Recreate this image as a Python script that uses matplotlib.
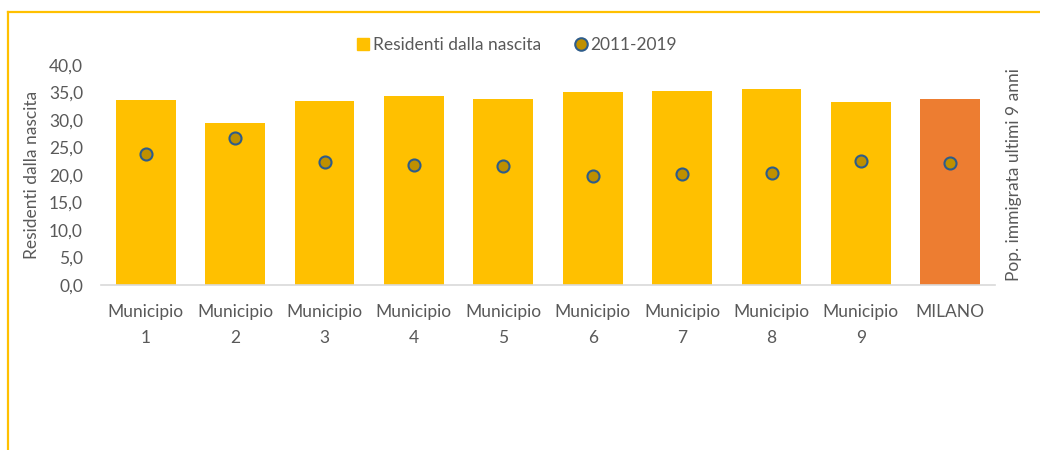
import matplotlib
matplotlib.use("Agg")
from matplotlib import pyplot as plt
from matplotlib.lines import Line2D
import numpy as np

plt.rcParams['font.family'] = ['Lato', 'DejaVu Sans']

categories = ['Municipio\n1', 'Municipio\n2', 'Municipio\n3', 'Municipio\n4', 'Municipio\n5',
              'Municipio\n6', 'Municipio\n7', 'Municipio\n8', 'Municipio\n9', 'MILANO']
residenti = [33.6, 29.5, 33.4, 34.3, 33.9, 35.1, 35.3, 35.7, 33.3, 33.8]
immigrati = [23.8, 26.7, 22.3, 21.9, 21.6, 19.8, 20.1, 20.4, 22.5, 22.1]
yticks = [0, 5, 10, 15, 20, 25, 30, 35, 40]

txt_col = '#595959'
bar_col = '#FFC000'
milano_col = '#ED7D31'
fs = 12.5

fig = plt.figure(figsize=(10.4, 4.5), dpi=100)
ax = fig.add_axes([101/1040, 1-285/450, 894/1040, 220/450])

x = np.arange(len(categories))
colors = [bar_col]*(len(categories)-1) + [milano_col]
ax.bar(x, residenti, width=0.67, color=colors, zorder=2)

ax2 = ax.twinx()
ax2.scatter(x, immigrati, s=75, color='#BF9000', edgecolor='#2E5C8A', linewidth=1.5, zorder=3)

for a in (ax, ax2):
    a.set_ylim(0, 40)
    a.set_xlim(-0.5, len(categories)-0.5)
    for s in a.spines.values():
        s.set_visible(False)
ax.spines['bottom'].set_visible(True)
ax.spines['bottom'].set_color('#D9D9D9')
ax.spines['bottom'].set_linewidth(1.2)

ax.set_yticks(yticks)
ax.set_yticklabels(['{:.1f}'.format(v).replace('.', ',') for v in yticks], fontsize=fs, color=txt_col)
ax.set_xticks(x)
ax.set_xticklabels(categories, fontsize=fs, color=txt_col, linespacing=1.75)
ax.tick_params(axis='both', length=0)
ax.tick_params(axis='x', pad=14)
ax.tick_params(axis='y', pad=13)
ax2.set_yticks([])

ax.set_ylabel('Residenti dalla nascita', fontsize=fs, color=txt_col, labelpad=6)
ax2.set_ylabel('Pop. immigrata ultimi 9 anni', fontsize=fs, color=txt_col, labelpad=8)

handles = [Line2D([], [], marker='s', linestyle='', markersize=9, color=bar_col),
           Line2D([], [], marker='o', linestyle='', markersize=9, markerfacecolor='#BF9000',
                  markeredgecolor='#2E5C8A', markeredgewidth=1.5)]
leg = fig.legend(handles, ['Residenti dalla nascita', '2011-2019'], loc='center',
                 bbox_to_anchor=(516/1040, 1-45/450), ncol=2, frameon=False, fontsize=fs,
                 handletextpad=0.05, columnspacing=1.8, handlelength=1.0)
for t in leg.get_texts():
    t.set_color(txt_col)

# frame of the chart area
fig.add_artist(Line2D([8/1040, 1.0], [1-12/450, 1-12/450], transform=fig.transFigure,
                      color='#FFC000', linewidth=1.6))
fig.add_artist(Line2D([8/1040, 8/1040], [1-12/450, 0.0], transform=fig.transFigure,
                      color='#FFC000', linewidth=1.6))

fig.savefig('out.png', dpi=100)
